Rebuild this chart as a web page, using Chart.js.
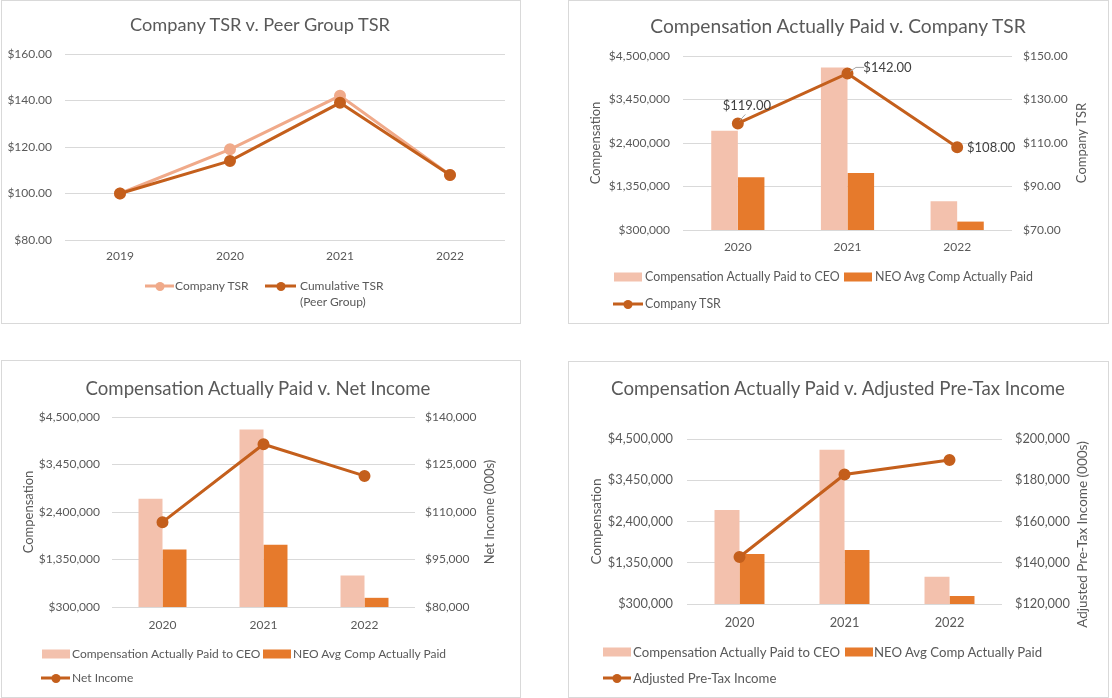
<!DOCTYPE html>
<html><head><meta charset="utf-8">
<script src="https://cdn.jsdelivr.net/npm/chart.js@4"></script>
<style>
body{margin:0;width:1112px;height:698px;position:relative;background:#fff;font-family:Lato, sans-serif;overflow:hidden}
.panel{position:absolute;border:1px solid #d9d9d9;box-sizing:border-box;background:#fff}
.panel canvas{position:absolute;left:0;top:0}
.title{position:absolute;transform:translate(-50%,-50%);white-space:nowrap;font-size:18px;color:#595959}
.lg{position:absolute;font-size:12px;color:#595959;white-space:nowrap;line-height:16px;transform:translateY(-50%)}
.lg2{position:absolute;font-size:12px;color:#595959;white-space:nowrap;line-height:16px}
.sw{position:absolute;height:9px;transform:translateY(-50%)}
.ln{position:absolute;height:3px;transform:translateY(-50%)}
.ln i{position:absolute;left:50%;top:50%;width:9px;height:9px;border-radius:50%;transform:translate(-50%,-50%)}
.p2{font-size:12.4px}
.p4{font-size:13.2px}
</style></head><body>

<div class="panel" style="left:1px;top:0;width:520px;height:324px"><canvas id="c1" width="518" height="322" style="width:518px;height:322px"></canvas></div>
<div class="panel" style="left:568px;top:0;width:541px;height:324px"><canvas id="c2" width="539" height="322" style="width:539px;height:322px"></canvas></div>
<div class="panel" style="left:1px;top:360px;width:520px;height:338px"><canvas id="c3" width="518" height="336" style="width:518px;height:336px"></canvas></div>
<div class="panel" style="left:568px;top:361px;width:541px;height:337px"><canvas id="c4" width="539" height="335" style="width:539px;height:335px"></canvas></div>

<div class="title" style="left:260px;top:24px;font-size:18.2px">Company TSR v. Peer Group TSR</div>
<div class="title" style="left:838px;top:25px;font-size:19.2px">Compensation Actually Paid v. Company TSR</div>
<div class="title" style="left:258px;top:388px;font-size:18.6px">Compensation Actually Paid v. Net Income</div>
<div class="title" style="left:838px;top:388px;font-size:18.7px">Compensation Actually Paid v. Adjusted Pre-Tax Income</div>

<!-- legends -->
<div class="ln" style="left:145px;top:286px;width:29px;background:#F0AA8A"><i style="background:#F0AA8A"></i></div>
<div class="lg" style="left:175px;top:286px">Company TSR</div>
<div class="ln" style="left:265px;top:286px;width:31px;background:#C45F1C"><i style="background:#C45F1C"></i></div>
<div class="lg2" style="left:300px;top:278px">Cumulative TSR<br>(Peer Group)</div>

<div class="sw" style="left:614px;top:277px;width:28px;background:#F3C1AD"></div>
<div class="lg p2" style="left:645px;top:277px">Compensation Actually Paid to CEO</div>
<div class="sw" style="left:844px;top:277px;width:28px;background:#E67A2C"></div>
<div class="lg p2" style="left:875px;top:277px">NEO Avg Comp Actually Paid</div>
<div class="ln" style="left:613px;top:304px;width:30px;background:#C45F1C"><i style="background:#C45F1C"></i></div>
<div class="lg p2" style="left:645px;top:304px">Company TSR</div>

<div class="sw" style="left:42px;top:654px;width:28px;background:#F3C1AD"></div>
<div class="lg" style="left:72px;top:654px">Compensation Actually Paid to CEO</div>
<div class="sw" style="left:263px;top:654px;width:28px;background:#E67A2C"></div>
<div class="lg" style="left:293px;top:654px">NEO Avg Comp Actually Paid</div>
<div class="ln" style="left:41px;top:678px;width:29px;background:#C45F1C"><i style="background:#C45F1C"></i></div>
<div class="lg" style="left:72px;top:678px">Net Income</div>

<div class="sw" style="left:603px;top:652px;width:28px;background:#F3C1AD"></div>
<div class="lg p4" style="left:633px;top:652px">Compensation Actually Paid to CEO</div>
<div class="sw" style="left:845px;top:652px;width:28px;background:#E67A2C"></div>
<div class="lg p4" style="left:874px;top:652px">NEO Avg Comp Actually Paid</div>
<div class="ln" style="left:603px;top:678px;width:28px;background:#C45F1C"><i style="background:#C45F1C"></i></div>
<div class="lg p4" style="left:633px;top:678px">Adjusted Pre-Tax Income</div>

<script>
// ---- data ----
const tsrYears = ['2019', '2020', '2021', '2022'];
const companyTSR = [100, 119, 142, 108];
const peerTSR = [100, 114, 139, 108];
const tsrTicks = [80, 100, 120, 140, 160];

const capYears = ['2020', '2021', '2022'];
const ceoCAP = [2695000, 4225000, 995000];
const neoCAP = [1572000, 1676000, 503000];
const compTicks = [300000, 1350000, 2400000, 3450000, 4500000];

const companyTSRcap = [119, 142, 108];
const companyTSRTicks = [70, 90, 110, 130, 150];

const netIncome = [106800, 131400, 121400];
const netIncomeTicks = [80000, 95000, 110000, 125000, 140000];

const adjPreTax = [142800, 182800, 189800];
const adjPreTaxTicks = [120000, 140000, 160000, 180000, 200000];

// ---- styles ----
const TXT = '#595959', GRID = '#d9d9d9';
const C_CEO = '#F3C1AD', C_NEO = '#E67A2C', C_LINE = '#C45F1C', C_LIGHT = '#F0AA8A';
const fmtMoney0 = v => '$' + Number(v).toLocaleString('en-US');
const fmtMoney2 = v => '$' + Number(v).toFixed(2);
Chart.defaults.font.family = 'Lato';
Chart.defaults.animation = false;

function ticksFrom(arr) {
  return function (s) { s.ticks = arr.map(v => ({value: v})); };
}

// Panel 1
new Chart(document.getElementById('c1'), {
  type: 'line',
  data: {
    labels: tsrYears,
    datasets: [
      {label: 'Company TSR', data: companyTSR, borderColor: C_LIGHT, backgroundColor: C_LIGHT,
       pointBackgroundColor: C_LIGHT, borderWidth: 3, pointRadius: 4.5, order: 1},
      {label: 'Cumulative TSR (Peer Group)', data: peerTSR, borderColor: C_LINE, backgroundColor: C_LINE,
       pointBackgroundColor: C_LINE, borderWidth: 3, pointRadius: 4.5, order: 0}
    ]
  },
  options: {
    responsive: false, animation: false,
    layout: {padding: {left: 0, right: 15, top: 53, bottom: 53}},
    plugins: {legend: {display: false}, tooltip: {enabled: false}},
    scales: {
      x: {offset: true, grid: {display: false, drawTicks: false}, border: {display: false},
          ticks: {color: TXT, font: {family: 'Lato', size: 12}, padding: 9}, afterFit(s) { s.height = 30; }},
      y: {min: tsrTicks[0], max: tsrTicks[tsrTicks.length - 1], afterBuildTicks: ticksFrom(tsrTicks),
          grid: {color: GRID, drawTicks: false}, border: {display: false},
          ticks: {color: TXT, font: {family: 'Lato', size: 12}, padding: 13, callback: v => fmtMoney2(v)},
          afterFit(s) { s.width = 63; }}
    }
  }
});

// data labels (panel 2)
const tsrLabelPlugin = {
  id: 'tsrLabels',
  afterDatasetsDraw(chart, args, opts) {
    if (!opts || !opts.enabled) return;
    const ctx = chart.ctx;
    const ds = chart.data.datasets[opts.datasetIndex];
    const meta = chart.getDatasetMeta(opts.datasetIndex);
    ctx.save();
    meta.data.forEach((pt, i) => {
      const st = opts.styles[i];
      if (st.leader) {
        ctx.strokeStyle = '#a6a6a6';
        ctx.lineWidth = 1;
        ctx.beginPath();
        st.leader.forEach((p, k) => {
          const x = pt.x + p[0], y = pt.y + p[1];
          if (k === 0) ctx.moveTo(x, y); else ctx.lineTo(x, y);
        });
        ctx.stroke();
      }
      ctx.fillStyle = '#404040';
      ctx.font = '13px Lato';
      ctx.textAlign = 'center';
      ctx.textBaseline = 'middle';
      ctx.fillText(fmtMoney2(ds.data[i]), pt.x + st.dx, pt.y + st.dy);
    });
    ctx.restore();
  }
};

// right-axis title reading bottom-to-top
const rightTitlePlugin = {
  id: 'rightTitle',
  afterDraw(chart, args, opts) {
    if (!opts || !opts.text) return;
    const sc = chart.scales.y1;
    const ca = chart.chartArea;
    const ctx = chart.ctx;
    ctx.save();
    ctx.translate(sc.right - opts.inset, (ca.top + ca.bottom) / 2 + (opts.dy || 0));
    ctx.rotate(-Math.PI / 2);
    ctx.fillStyle = TXT;
    ctx.font = opts.size + 'px Lato';
    ctx.textAlign = 'center';
    ctx.textBaseline = 'middle';
    ctx.fillText(opts.text, 0, 0);
    ctx.restore();
  }
};

function combo(id, lineLabel, lineData, rTicks, rFmt, rTitle, g, labelOpts) {
  const tf = {family: 'Lato', size: g.fs};
  return new Chart(document.getElementById(id), {
    data: {
      labels: capYears,
      datasets: [
        {type: 'bar', label: 'Compensation Actually Paid to CEO', data: ceoCAP, backgroundColor: C_CEO,
         yAxisID: 'y', order: 2, barPercentage: 1, categoryPercentage: g.cat},
        {type: 'bar', label: 'NEO Avg Comp Actually Paid', data: neoCAP, backgroundColor: C_NEO,
         yAxisID: 'y', order: 2, barPercentage: 1, categoryPercentage: g.cat},
        {type: 'line', label: lineLabel, data: lineData, borderColor: C_LINE, backgroundColor: C_LINE,
         pointBackgroundColor: C_LINE, borderWidth: 3, pointRadius: 4.5, yAxisID: 'y1', order: 0}
      ]
    },
    plugins: [tsrLabelPlugin, rightTitlePlugin],
    options: {
      responsive: false, animation: false,
      layout: {padding: g.pad},
      plugins: {
        legend: {display: false}, tooltip: {enabled: false},
        tsrLabels: labelOpts || {enabled: false},
        rightTitle: {text: rTitle, inset: 12, size: g.ts, dy: g.rdy || 0}
      },
      scales: {
        x: {grid: {display: false, drawTicks: false}, border: {display: false},
            ticks: {color: TXT, font: tf, padding: g.xpad}, afterFit(s) { s.height = 30; }},
        y: {position: 'left', min: compTicks[0], max: compTicks[compTicks.length - 1],
            afterBuildTicks: ticksFrom(compTicks),
            grid: {color: GRID, drawTicks: false}, border: {display: false},
            ticks: {color: TXT, font: tf, padding: g.lpad, callback: v => fmtMoney0(v)},
            title: {display: true, text: 'Compensation', color: TXT, font: {family: 'Lato', size: g.ts}},
            afterFit(s) { s.width = g.lw; }},
        y1: {position: 'right', min: rTicks[0], max: rTicks[rTicks.length - 1],
            afterBuildTicks: ticksFrom(rTicks),
            grid: {display: false, drawTicks: false}, border: {display: false},
            ticks: {color: TXT, font: tf, padding: g.rpad, callback: v => rFmt(v)},
            afterFit(s) { s.width = g.rw; }}
      }
    }
  });
}

combo('c2', 'Company TSR', companyTSRcap, companyTSRTicks, fmtMoney2, 'Company TSR',
  {pad: {left: 15, right: 14, top: 55, bottom: 63}, lw: 99, rw: 82, lpad: 13, rpad: 11, xpad: 10,
   cat: 0.485, fs: 12, ts: 13},
  {enabled: true, datasetIndex: 2, styles: [
    {dx: 9, dy: -18, leader: [[7.5, -9], [2, -3]]},
    {dx: 40, dy: -6, leader: [[16.5, -6], [8.5, -6], [2.5, -2]]},
    {dx: 34, dy: 0}
  ]});

combo('c3', 'Net Income', netIncome, netIncomeTicks, fmtMoney0, 'Net Income (000s)',
  {pad: {left: 15, right: 18, top: 56, bottom: 60}, lw: 95, rw: 87, lpad: 12, rpad: 10, xpad: 11,
   cat: 0.475, fs: 12, ts: 13});

combo('c4', 'Adjusted Pre-Tax Income', adjPreTax, adjPreTaxTicks, fmtMoney0, 'Adjusted Pre-Tax Income (000s)',
  {pad: {left: 16, right: 13, top: 77, bottom: 63}, lw: 102, rw: 93, lpad: 14, rpad: 13, xpad: 11,
   cat: 0.476, fs: 12.8, ts: 13.5, rdy: 13});
</script>
</body></html>
